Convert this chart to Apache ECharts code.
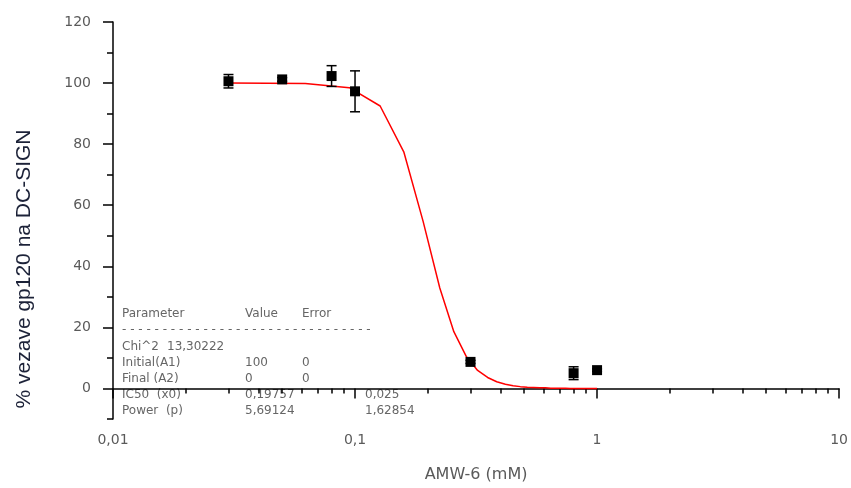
<!DOCTYPE html>
<html>
<head>
<meta charset="utf-8">
<script src="https://cdn.jsdelivr.net/npm/echarts@6/dist/echarts.min.js"></script>
<style>html,body{margin:0;padding:0;background:#fff;}#c{width:851px;height:488px;}</style>
</head>
<body>
<div id="c"></div>
<script>
// ---- data ----
const concX = [0.03, 0.05, 0.08, 0.1, 0.3, 0.8, 1];
const bindingY = [100.6, 101.2, 102.3, 97.3, 8.7, 5.0, 6.0];
const bindingErr = [2.2, 0.6, 3.4, 6.7, 0.5, 2.1, 0.4];
const fitX = [0.03, 0.0623, 0.0947, 0.127, 0.159, 0.191, 0.224, 0.256, 0.288, 0.321, 0.353, 0.385, 0.418, 0.45, 0.482, 0.515, 0.547, 0.579, 0.612, 0.644, 0.676, 0.709, 0.741, 0.773, 0.806, 0.838, 0.87, 0.903, 0.935, 0.967, 1];
const fitY = [100, 99.9, 98.5, 92.5, 77.5, 54.8, 32.9, 18.6, 10.5, 5.9, 3.6, 2.2, 1.4, 0.9, 0.6, 0.4, 0.3, 0.2, 0.2, 0.1, 0.1, 0.1, 0.1, 0, 0, 0, 0, 0, 0, 0, 0];
const xMajorTicks = [0.01, 0.1, 1, 10];
const xMinorTicks = [0.02,0.03,0.04,0.05,0.06,0.07,0.08,0.09,0.2,0.3,0.4,0.5,0.6,0.7,0.8,0.9,2,3,4,5,6,7,8,9];
const xTickLabels = ['0,01', '0,1', '1', '10'];
const yMajorTicks = [0, 20, 40, 60, 80, 100, 120];
const yMinorTicks = [-10, 10, 30, 50, 70, 90, 110];
const xTitle = 'AMW-6 (mM)';
const yTitle = '% vezave gp120 na DC-SIGN';
const paramRows = [
  ['Parameter', 'Value', 'Error', ''],
  ['Chi^2', '13,30222', '', ''],
  ['Initial(A1)', '100', '0', ''],
  ['Final (A2)', '0', '0', ''],
  ['IC50  (x0)', '0,19757', '', '0,025'],
  ['Power  (p)', '5,69124', '', '1,62854']
];

const chart = echarts.init(document.getElementById('c'), null, {renderer: 'canvas'});
const gray = '#5a5a5a';
const lblFont = {color: gray, fontSize: 14, fontFamily: 'DejaVu Sans'};

// annotation text (pixel placement)
const boxFont = '12px "DejaVu Sans"';
const txtStyle = (t, x, y) => ({type: 'text', x: x, y: y, style: {text: t, fill: '#666', font: boxFont, textVerticalAlign: 'middle'}});
const gfx = [];
const colX = [122, 245, 302, 365];
const rowY = [314, 347, 363, 379, 395, 411];
paramRows.forEach((r, i) => {
  r.forEach((t, j) => {
    if (!t) return;
    let x = colX[j];
    if (i === 1 && j === 1) x = 167;
    gfx.push(txtStyle(t, x, rowY[i]));
  });
});
gfx.push({type: 'text', x: 122, y: 330, style: {text: '- '.repeat(31), fill: '#666', font: boxFont, textVerticalAlign: 'middle'}});
gfx.push({type: 'text', x: 24, y: 269, rotation: Math.PI / 2,
  style: {text: yTitle, fill: '#1c2238', font: '21px "Liberation Sans"', textAlign: 'center', textVerticalAlign: 'middle'}});

const option = {
  animation: false,
  backgroundColor: '#fff',
  grid: {left: 113, right: 10, top: 22, bottom: 61, containLabel: false},
  xAxis: [
    {type: 'log', logBase: 10, min: 0.01, max: 10, position: 'bottom',
     name: xTitle, nameLocation: 'middle', nameGap: 48,
     nameTextStyle: {color: gray, fontSize: 16, fontFamily: 'DejaVu Sans'},
     axisLine: {show: true, lineStyle: {color: '#000', width: 1.5}},
     axisTick: {show: true, inside: false, length: 10, customValues: xMajorTicks, lineStyle: {color: '#000', width: 1.5}},
     axisLabel: {show: true, margin: 14, customValues: xMajorTicks,
       formatter: (v) => xTickLabels[xMajorTicks.findIndex(t => Math.abs(t - v) < t * 1e-6)] || '', ...lblFont},
     splitLine: {show: false}, minorTick: {show: false}},
    {type: 'log', logBase: 10, min: 0.01, max: 10, position: 'bottom',
     axisLine: {show: false},
     axisTick: {show: true, inside: false, length: 5, customValues: xMinorTicks, lineStyle: {color: '#000', width: 1.5}},
     axisLabel: {show: false}, splitLine: {show: false}}
  ],
  yAxis: [
    {type: 'value', min: -10, max: 120, position: 'left',
     axisLine: {show: true, onZero: false, lineStyle: {color: '#000', width: 1.5}},
     axisTick: {show: true, inside: false, length: 10, customValues: yMajorTicks, lineStyle: {color: '#000', width: 1.5}},
     axisLabel: {show: true, margin: 22, customValues: yMajorTicks, ...lblFont},
     splitLine: {show: false}},
    {type: 'value', min: -10, max: 120, position: 'left',
     axisLine: {show: false},
     axisTick: {show: true, inside: false, length: 6, customValues: yMinorTicks, lineStyle: {color: '#000', width: 1.5}},
     axisLabel: {show: false}, splitLine: {show: false}}
  ],
  series: [
    {type: 'line', xAxisIndex: 0, yAxisIndex: 0, data: fitX.map((x, i) => [x, fitY[i]]),
     showSymbol: false, symbol: 'none', lineStyle: {color: '#ff0000', width: 1.5}, z: 2},
    {type: 'custom', xAxisIndex: 0, yAxisIndex: 0,
     data: concX.map((x, i) => [x, bindingY[i] - bindingErr[i], bindingY[i] + bindingErr[i]]),
     encode: {x: 0, y: [1, 2]},
     renderItem: function (params, api) {
       const lo = api.coord([api.value(0), api.value(1)]);
       const hi = api.coord([api.value(0), api.value(2)]);
       const w = 5;
       const st = {stroke: '#000', lineWidth: 1.5};
       return {type: 'group', children: [
         {type: 'line', shape: {x1: lo[0], y1: lo[1], x2: hi[0], y2: hi[1]}, style: st},
         {type: 'line', shape: {x1: lo[0] - w, y1: lo[1], x2: lo[0] + w, y2: lo[1]}, style: st},
         {type: 'line', shape: {x1: hi[0] - w, y1: hi[1], x2: hi[0] + w, y2: hi[1]}, style: st}
       ]};
     }, z: 3},
    {type: 'scatter', xAxisIndex: 0, yAxisIndex: 0, data: concX.map((x, i) => [x, bindingY[i]]),
     symbol: 'rect', symbolSize: 10, itemStyle: {color: '#000', opacity: 1}, z: 4}
  ],
  graphic: gfx
};
chart.setOption(option);
</script>
</body>
</html>
